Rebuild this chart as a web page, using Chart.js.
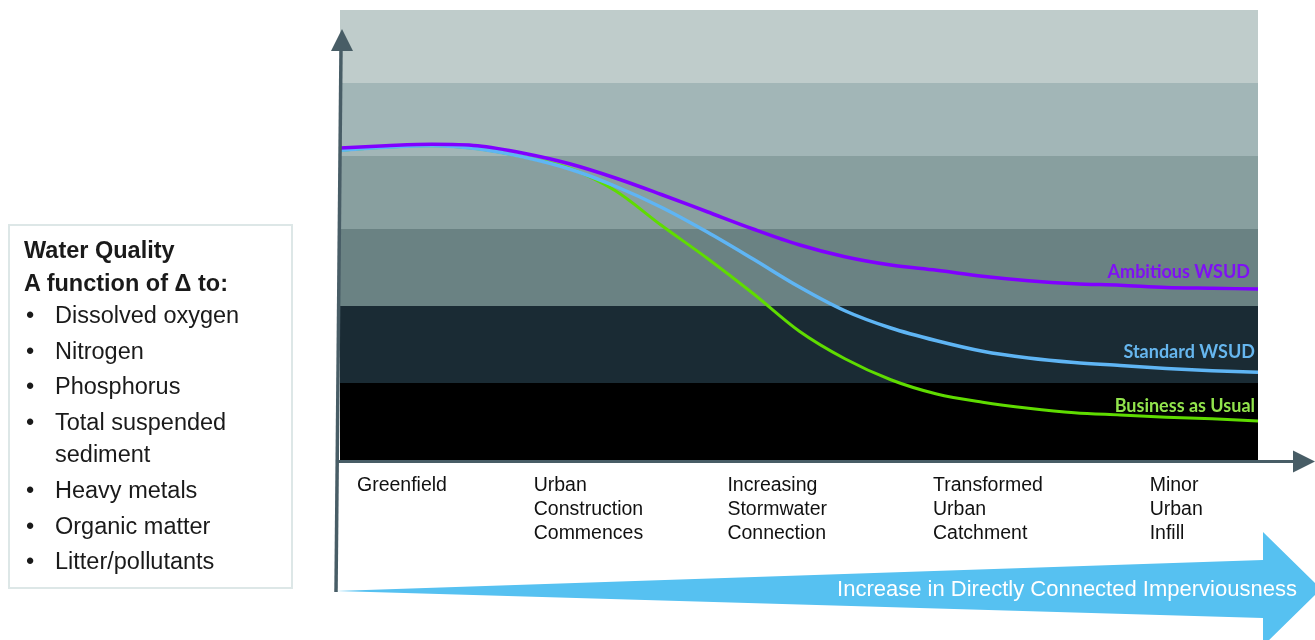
<!DOCTYPE html>
<html><head><meta charset="utf-8">
<script src="https://cdn.jsdelivr.net/npm/chart.js@4.4.1/dist/chart.umd.min.js"></script>
<style>
html,body{margin:0;padding:0;background:#fff;}
#wrap{position:relative;width:1315px;height:640px;overflow:hidden;}
#c{position:absolute;left:0;top:0;}
#box{position:absolute;left:8px;top:224px;width:285px;height:365px;box-sizing:border-box;border:2px solid #dde7e7;}
.ln{position:absolute;font-family:'Liberation Sans',Arial,sans-serif;font-size:23.5px;line-height:30px;color:#1a1a1a;white-space:nowrap;}
.b{font-weight:bold;font-size:23.5px;}
</style></head>
<body><div id="wrap"><canvas id="c" width="1315" height="640"></canvas><div id="box"></div></div>
<script>
// ---- data ----
const xPositions = [0,0.5,1,1.5,2,2.5,3,3.5,4,4.5,5,5.5,6,6.5,7,7.5,8,8.5,9,9.5,10];
const ambitious = [4.16,4.19,4.21,4.19,4.09,3.95,3.76,3.54,3.31,3.08,2.87,2.71,2.60,2.53,2.45,2.39,2.35,2.33,2.30,2.29,2.28];
const standard  = [4.13,4.17,4.19,4.15,4.04,3.88,3.65,3.37,3.04,2.68,2.31,1.99,1.76,1.59,1.45,1.36,1.30,1.26,1.22,1.19,1.17];
const business  = [4.13,4.17,4.19,4.15,4.04,3.89,3.59,3.13,2.69,2.22,1.72,1.35,1.07,0.88,0.77,0.69,0.63,0.60,0.57,0.55,0.52];
const seriesNames = ['Ambitious WSUD','Standard WSUD','Business as Usual'];
const stageTicks = [0.185,2.11,4.22,6.46,8.82];
const stageLabels = [['Greenfield'],['Urban','Construction','Commences'],['Increasing','Stormwater','Connection'],['Transformed','Urban','Catchment'],['Minor','Urban','Infill']];
const bandEdges = [0,1.03,2.05,3.08,4.05,5.03,6];
const bandColors = ['#000000','#1a2b34','#6a8283','#889f9f','#a2b6b7','#bfcccb'];
const headingLines = ['Water Quality','A function of \u0394 to:'];
const listItems = [['Dissolved oxygen'],['Nitrogen'],['Phosphorus'],['Total suspended','sediment'],['Heavy metals'],['Organic matter'],['Litter/pollutants']];
const arrowText = 'Increase in Directly Connected Imperviousness';

// ---- side box ----
const box = document.getElementById('box');
function addLine(txt, left, center, bold){
  const d = document.createElement('div');
  d.className = 'ln' + (bold ? ' b' : '');
  d.textContent = txt;
  d.style.left = left + 'px';
  d.style.top = (center - 15 - 226) + 'px';
  box.appendChild(d);
}
addLine(headingLines[0], 14, 250, true);
addLine(headingLines[1], 14, 283, true);
let yy = 315;
listItems.forEach(item => {
  addLine('\u2022', 16, yy, false);
  item.forEach((t, j) => addLine(t, 45, yy + j * 32, false));
  yy += (item.length - 1) * 32 + 35.7;
});

// ---- chart ----
const mk = arr => xPositions.map((x, i) => ({x, y: arr[i]}));
const AXIS = '#485d66';

const bandsPlugin = {
  id: 'bands',
  beforeDatasetsDraw(chart){
    const {ctx, chartArea: a, scales: {y}} = chart;
    ctx.save();
    for (let i = 0; i < bandColors.length; i++){
      const top = Math.round(y.getPixelForValue(bandEdges[i+1]));
      const bot = Math.round(y.getPixelForValue(bandEdges[i]));
      ctx.fillStyle = bandColors[i];
      ctx.fillRect(a.left, top, a.right - a.left, bot - top);
    }
    ctx.restore();
  }
};

const labelPlugin = {
  id: 'curveLabels',
  afterDatasetsDraw(chart){
    const {ctx, chartArea: a} = chart;
    ctx.save();
    ctx.font = 'bold 18px Lato, "Open Sans", sans-serif';
    ctx.textAlign = 'right';
    ctx.textBaseline = 'middle';
    chart.data.datasets.forEach((ds, i) => {
      const meta = chart.getDatasetMeta(i);
      const last = meta.data[meta.data.length - 1];
      ctx.fillStyle = ds.labelColor;
      ctx.fillText(ds.label, a.right - ds.labelInset, last.y - ds.labelRise);
    });
    ctx.restore();
  }
};

const axesPlugin = {
  id: 'arrows',
  afterDraw(chart){
    const {ctx, chartArea: a} = chart;
    const W = chart.width;
    ctx.save();
    // big blue arrow
    const bx0 = a.left - 4, by0 = 591;
    const hx = 1263;
    ctx.fillStyle = '#56c1f1';
    ctx.beginPath();
    ctx.moveTo(bx0, by0);
    ctx.lineTo(hx, 560);
    ctx.lineTo(hx, 532);
    ctx.lineTo(hx + 58, 589);
    ctx.lineTo(hx, 646);
    ctx.lineTo(hx, 618);
    ctx.closePath();
    ctx.fill();
    ctx.fillStyle = '#ffffff';
    ctx.font = '22px "Liberation Sans", Arial, sans-serif';
    ctx.textAlign = 'center';
    ctx.textBaseline = 'middle';
    ctx.fillText(arrowText, 1067, 590);

    ctx.strokeStyle = AXIS;
    ctx.fillStyle = AXIS;
    ctx.lineWidth = 3.5;
    // y axis (slightly slanted)
    ctx.beginPath();
    ctx.moveTo(a.left - 4, 592);
    ctx.lineTo(a.left + 1, 48);
    ctx.stroke();
    ctx.beginPath();
    ctx.moveTo(a.left + 2, 29);
    ctx.lineTo(a.left - 9, 51);
    ctx.lineTo(a.left + 13, 51);
    ctx.closePath();
    ctx.fill();
    // x axis
    ctx.lineWidth = 3;
    ctx.beginPath();
    ctx.moveTo(a.left - 4, a.bottom + 1.5);
    ctx.lineTo(W - 20, a.bottom + 1.5);
    ctx.stroke();
    ctx.beginPath();
    ctx.moveTo(W, a.bottom + 1.5);
    ctx.lineTo(W - 22, a.bottom - 9.5);
    ctx.lineTo(W - 22, a.bottom + 12.5);
    ctx.closePath();
    ctx.fill();
    ctx.restore();
  }
};

new Chart(document.getElementById('c'), {
  type: 'line',
  data: {
    datasets: [
      {label: seriesNames[2], data: mk(business), borderColor: '#5fdc00', borderWidth: 3, labelColor: '#92e44c', labelInset: 3, labelRise: 15, order: 3},
      {label: seriesNames[1], data: mk(standard), borderColor: '#5fb5f4', borderWidth: 3.5, labelColor: '#66b6ee', labelInset: 3, labelRise: 20, order: 2},
      {label: seriesNames[0], data: mk(ambitious), borderColor: '#8000ff', borderWidth: 3.5, labelColor: '#7f10f4', labelInset: 8, labelRise: 17, order: 1}
    ]
  },
  options: {
    responsive: false,
    animation: false,
    devicePixelRatio: 1,
    layout: {padding: {left: 340, right: 57, top: 10, bottom: 80}},
    elements: {point: {radius: 0}, line: {cubicInterpolationMode: 'monotone', fill: false}},
    plugins: {legend: {display: false}, tooltip: {enabled: false}},
    scales: {
      x: {
        type: 'linear', min: 0, max: 10,
        border: {display: false},
        grid: {display: false, drawTicks: false},
        afterBuildTicks: s => { s.ticks = stageTicks.map(v => ({value: v})); },
        ticks: {
          align: 'start', padding: 14, autoSkip: false, maxRotation: 0,
          color: '#111111',
          font: {family: '"Liberation Sans", Arial, sans-serif', size: 19.5, lineHeight: '24px'},
          callback: (v, i) => stageLabels[i]
        }
      },
      y: {type: 'linear', min: 0, max: 6, display: false}
    }
  },
  plugins: [bandsPlugin, labelPlugin, axesPlugin]
});
</script>
</body></html>
